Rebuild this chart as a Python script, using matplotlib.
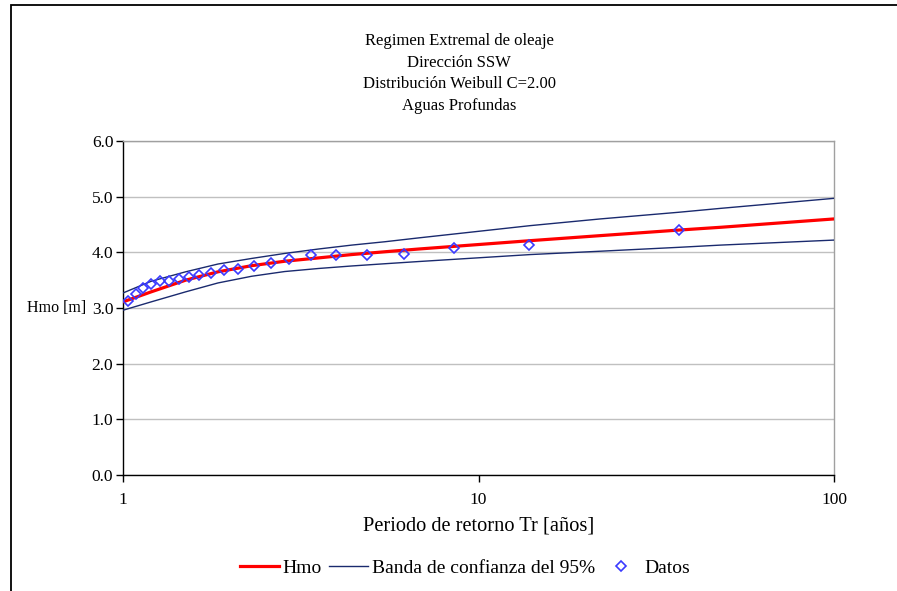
import matplotlib
matplotlib.use("Agg")
import matplotlib.pyplot as plt
from matplotlib.patches import Rectangle
from matplotlib.ticker import FixedLocator, FuncFormatter, NullLocator

plt.rcParams['font.family'] = ['Liberation Serif', 'DejaVu Serif']

# Curvas (periodo de retorno en años, Hmo en m)
tr_curve = [1.0, 1.2, 1.5, 1.85, 2.3, 2.85, 3.55, 4.4, 5.45, 6.8, 14, 22, 36.6, 48, 100]
hmo = [3.11, 3.29, 3.50, 3.65, 3.76, 3.84, 3.90, 3.96, 4.01, 4.06, 4.21, 4.30, 4.40, 4.45, 4.60]
band_upper = [3.27, 3.48, 3.65, 3.79, 3.89, 3.98, 4.06, 4.13, 4.19, 4.26, 4.48, 4.60, 4.72, 4.79, 4.97]
band_lower = [2.96, 3.11, 3.29, 3.45, 3.57, 3.655, 3.71, 3.755, 3.795, 3.835, 3.96, 4.02, 4.09, 4.13, 4.22]

# Datos
tr_data = [1.03, 1.09, 1.14, 1.20, 1.27, 1.35, 1.44, 1.53, 1.64, 1.77, 1.92,
           2.11, 2.33, 2.60, 2.94, 3.37, 3.97, 4.87, 6.17, 8.55, 13.9, 36.6]
hmo_data = [3.13, 3.26, 3.36, 3.43, 3.48, 3.48, 3.52, 3.56, 3.60, 3.62, 3.69,
            3.70, 3.76, 3.81, 3.88, 3.95, 3.95, 3.95, 3.97, 4.08, 4.14, 4.41]

title_lines = ["Regimen Extremal de oleaje", "Dirección SSW",
               "Distribución Weibull C=2.00", "Aguas Profundas"]
x_ticks = [1, 10, 100]
y_ticks = [0, 1, 2, 3, 4, 5, 6]

W, H = 897, 591
fig = plt.figure(figsize=(W / 100, H / 100), dpi=100)
ax = fig.add_axes([123 / W, 1 - 475 / H, (834 - 123) / W, (475 - 141) / H])

ax.plot(tr_curve, hmo, color='#ff0000', lw=2.3, label='Hmo', zorder=4)
ax.plot(tr_curve, band_upper, color='#1a2a6e', lw=1.0,
        label='Banda de confianza del 95%', zorder=3)
ax.plot(tr_curve, band_lower, color='#1a2a6e', lw=1.0, zorder=3)
ax.plot(tr_data, hmo_data, ls='none', marker='D', ms=5.5, mfc='none',
        mec='#3a3aff', mew=1.2, label='Datos', zorder=5)

ax.set_xscale('log')
ax.set_xlim(1, 100)
ax.set_ylim(0, 6)
ax.xaxis.set_major_locator(FixedLocator(x_ticks))
ax.xaxis.set_minor_locator(NullLocator())
ax.xaxis.set_major_formatter(FuncFormatter(lambda v, p: f"{v:g}"))
ax.set_yticks(y_ticks)
ax.yaxis.set_major_formatter(FuncFormatter(lambda v, p: f"{v:.1f}"))
ax.grid(axis='y', color='#c0c0c0', lw=1.0)
ax.set_axisbelow(True)

for s in ['left', 'bottom']:
    ax.spines[s].set_color('black')
    ax.spines[s].set_linewidth(1.0)
for s in ['right', 'top']:
    ax.spines[s].set_color('#a0a0a0')
    ax.spines[s].set_linewidth(1.0)

ax.tick_params(axis='both', direction='out', length=5, width=1.0,
               labelsize=12.5, color='black')
ax.tick_params(axis='x', pad=7)
ax.tick_params(axis='y', pad=2)

ax.set_xlabel('Periodo de retorno Tr [años]', fontsize=14.7, labelpad=6)
ax.text(-0.135, 0.5, 'Hmo [m]', transform=ax.transAxes, fontsize=11.5,
        ha='left', va='center')

fig.text(459 / W, 1 - 33 / H, "\n".join(title_lines), ha='center', va='top',
         fontsize=12, linespacing=1.47)

leg = fig.legend(loc='center', bbox_to_anchor=(465 / W, 1 - 568 / H), ncol=3,
                 frameon=False, fontsize=14, handlelength=2.0,
                 handletextpad=0.2, columnspacing=0.35)

# marco del area del grafico
fig.add_artist(Rectangle((11 / W, -0.05), 1.2, 1.05 - 5 / H,
                         transform=fig.transFigure, fill=False,
                         edgecolor='black', lw=1.3))

fig.savefig('out.png', dpi=100)
